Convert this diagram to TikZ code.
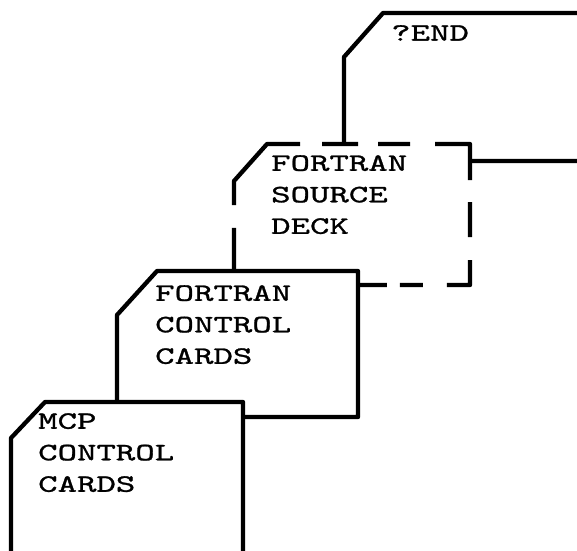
\documentclass[tikz,border=0pt]{standalone}
\usepackage{fontspec}
\newfontfamily\cardfont{lmmono10-regular.otf}[FakeStretch=1.48, FakeBold=1.1]
\usepackage{tikz}

\begin{document}
\begin{tikzpicture}[x=1pt, y=-1pt,
  card/.style={draw, line width=4.3pt, line join=round, fill=white},
  deck/.style={card, dash pattern=on 106.6pt off 22pt on 36pt off 20pt on 32pt off 25pt
    on 71pt off 22pt on 35pt off 23pt on 48pt off 24pt on 23pt off 13pt on 210pt off 23pt},
  cardtext/.style={anchor=north west, inner sep=0pt, align=left,
    font=\cardfont\fontsize{25}{31.5}\selectfont}]
  \useasboundingbox (0,0) rectangle (577,550);
  \clip (0,0) rectangle (577,550);
  % back card, runs off the right side
  \draw[card] (383,13) -- (700,13) -- (700,161) -- (344,161) -- (344,57) -- cycle;
  \node[cardtext] (endtext) at (391,25) {?END};
  % source deck, dashed
  \draw[deck] (234,205) -- (234,181) -- (267,144) -- (470,144) -- (470,285) -- (234,285) -- cycle;
  \node[cardtext] (sourcetext) at (271,155) {FORTRAN\\SOURCE\\DECK};
  % fortran control cards
  \draw[card] (157,271) -- (358,271) -- (358,417) -- (117,417) -- (117,315) -- cycle;
  \node[cardtext] (fortrantext) at (155,285) {FORTRAN\\CONTROL\\CARDS};
  % mcp control cards, runs off the bottom
  \draw[card] (45,402) -- (243,402) -- (243,620) -- (11,620) -- (11,438) -- cycle;
  \node[cardtext] (mcptext) at (38,413) {MCP\\CONTROL\\CARDS};
\end{tikzpicture}
\end{document}
